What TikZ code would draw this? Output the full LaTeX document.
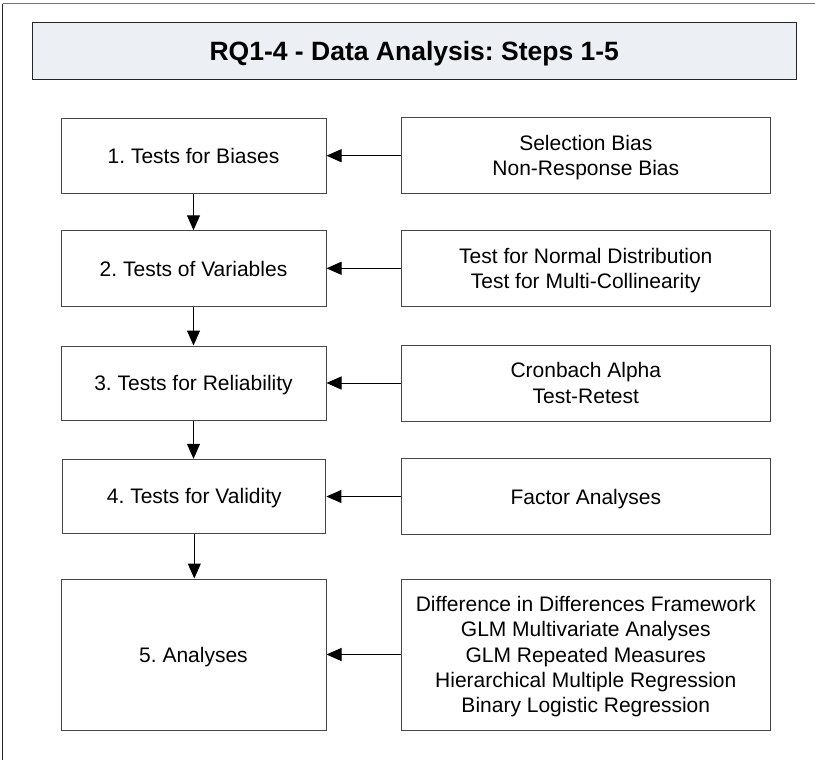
\documentclass[tikz,border=0pt]{standalone}
\usepackage{fontspec}
\setmainfont{Liberation Sans}
\usetikzlibrary{arrows.meta}
\definecolor{titlefill}{RGB}{236,239,243}
\definecolor{edge}{RGB}{70,70,70}
\newcommand\stepfont{\fontsize{21}{25.3}\selectfont\frenchspacing}
\newcommand\headfont{\fontsize{26.5}{30}\selectfont\bfseries\frenchspacing}
\begin{document}
\begin{tikzpicture}[x=1pt,y=-1pt,
  box/.style={draw=edge, line width=1pt, fill=white, inner sep=0pt,
              align=center, text depth=0pt, font=\stepfont},
  leftbox/.style={box, minimum width=265pt, minimum height=74pt},
  rightbox/.style={box, minimum width=369pt, minimum height=76pt},
  flow/.style={draw=black, line width=1pt, -{Triangle[length=15pt,width=13pt]}}]
\useasboundingbox (0,0) rectangle (815,760);
\fill[white] (0,0) rectangle (815,760);

% page frame (top and left edges only)
\draw[black!55, line width=1.5pt] (2.7,3.7) -- (815,3.7);
\draw[black!85, line width=1.2pt] (2.7,3.7) -- (2.7,760);

% heading
\node[draw=black!85, line width=1.3pt, fill=titlefill, minimum width=764pt,
      minimum height=57pt, inner sep=0pt, text depth=0pt, font=\headfont]
  (title) at (414.3,50.8) {RQ1-4 - Data Analysis: Steps 1-5};

% steps
\node[leftbox] (s1) at (193.5,156) {1. Tests for Biases};
\node[leftbox, minimum height=75.5pt] (s2) at (193.5,268.5) {2. Tests of Variables};
\node[leftbox] (s3) at (193.5,383) {3. Tests for Reliability};
\node[leftbox, minimum width=263.3pt] (s4) at (194.3,496.3) {4. Tests for Validity};
\node[leftbox, minimum height=151pt] (s5) at (193.5,654.5) {5. Analyses};

% methods
\node[rightbox] (r1) at (585.8,155.7) {Selection Bias\\Non-Response Bias};
\node[rightbox] (r2) at (585.8,268.3) {Test for Normal Distribution\\Test for Multi-Collinearity};
\node[rightbox] (r3) at (585.8,383) {Cronbach Alpha\\Test-Retest};
\node[rightbox, minimum height=75.6pt] (r4) at (585.8,496.5) {Factor Analyses};
\node[rightbox, minimum height=151pt] (r5) at (585.8,654.5)
  {Difference in Differences Framework\\GLM Multivariate Analyses\\GLM Repeated Measures\\Hierarchical Multiple Regression\\Binary Logistic Regression};

% step sequence
\draw[flow] (s1.south) -- (s2.north);
\draw[flow] (s2.south) -- (s3.north);
\draw[flow] (s3.south) -- (s3.south |- s4.north);
\draw[flow] (s4.south) -- (s4.south |- s5.north);

% method inputs
\draw[flow] (r1.west) -- (r1.west -| s1.east);
\draw[flow] (r2.west) -- (r2.west -| s2.east);
\draw[flow] (r3.west) -- (r3.west -| s3.east);
\draw[flow] (r4.west) -- (r4.west -| s4.east);
\draw[flow] (r5.west) -- (r5.west -| s5.east);
\end{tikzpicture}
\end{document}
